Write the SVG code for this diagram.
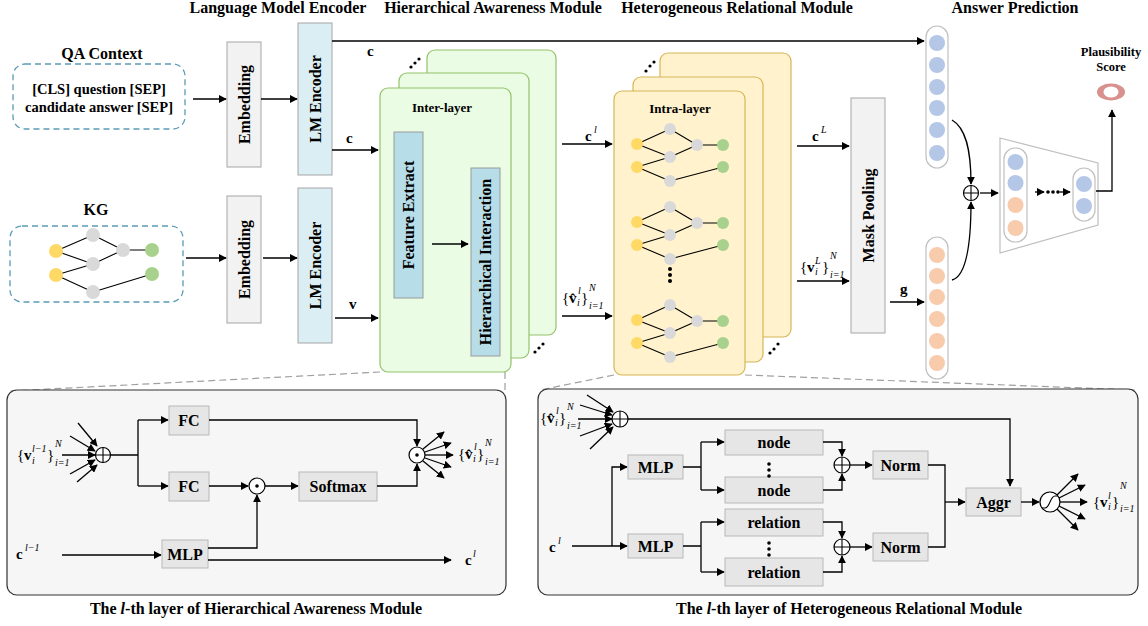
<svg xmlns="http://www.w3.org/2000/svg" width="1148" height="626" viewBox="0 0 1148 626">
<style>
text{font-family:"Liberation Serif",serif}
.t{font-size:16px;font-weight:bold;text-anchor:middle}
.lb{font-size:16px;font-weight:bold;text-anchor:middle;dominant-baseline:central}
.sm{font-size:13px;font-weight:bold;text-anchor:middle}
.m{font-size:15px}
.mb{font-size:15px;font-weight:bold}
.mi{font-size:10px;font-style:italic}
.bx{fill:#f2f2f2;stroke:#a6a6a6;stroke-width:1}
.lm{fill:#daeef3;stroke:#a6a6a6;stroke-width:1}
.fe{fill:#b7dde8;stroke:#999;stroke-width:1}
.gc{fill:#eafde4;stroke:#93c26a;stroke-width:1.2}
.yc{fill:#fff2cc;stroke:#d6b656;stroke-width:1.2}
.bb{fill:#e6e6e6;stroke:#b8b8b8;stroke-width:1}
.pn{fill:#f6f6f6;stroke:#333;stroke-width:1.2}
.ln{stroke:#000;stroke-width:1.3;fill:none}
.ar{marker-end:url(#ah)}
.dash{stroke:#a0a0a0;stroke-width:1.2;stroke-dasharray:7 4;fill:none}
.qd{fill:#fff;stroke:#5b9bb5;stroke-width:1.3;stroke-dasharray:6 4}
.ed{stroke:#000;stroke-width:1.1;fill:none}
.ny{fill:#ffd966}.ng{fill:#d9d9d9}.nn{fill:#a9d18e}
.cb{fill:#b4c7e7}.co{fill:#f8cbad}
.pill{fill:#fff;stroke:#c0c0c0;stroke-width:1.2}
.op{fill:#fff;stroke:#000;stroke-width:1.2}
.dt{fill:#000}
</style>
<defs>
<marker id="ah" viewBox="0 0 10 10" refX="9" refY="5" markerWidth="8" markerHeight="8" markerUnits="userSpaceOnUse" orient="auto"><path d="M0,0 L10,5 L0,10 z" fill="#000"/></marker>
<g id="ig">
<path class="ed" d="M0,0 L33,-15 M0,0 L33,13 M0,23 L33,13 M0,23 L33,37 M33,-15 L60,1 M33,13 L60,1 M60,1 L86,1 M33,37 L86,23"/>
<circle class="ny" cx="0" cy="0" r="6"/><circle class="ny" cx="0" cy="23" r="6"/>
<circle class="ng" cx="33" cy="-15" r="6"/><circle class="ng" cx="33" cy="13" r="6"/><circle class="ng" cx="33" cy="37" r="6"/>
<circle class="ng" cx="60" cy="1" r="6"/>
<circle class="nn" cx="86" cy="1" r="6"/><circle class="nn" cx="86" cy="23" r="6"/>
</g>
</defs>

<!-- titles -->
<text class="t" x="278" y="13">Language Model Encoder</text>
<text class="t" x="493" y="13">Hierarchical Awareness Module</text>
<text class="t" x="737" y="13">Heterogeneous Relational Module</text>
<text class="t" x="1015" y="13">Answer Prediction</text>

<!-- dashed zoom lines -->
<g id="zoomlines">
<path class="dash" d="M380,372 L10,391"/>
<path class="dash" d="M505,372 L505,390"/>
<path class="dash" d="M614,375 L540,390"/>
<path class="dash" d="M745,375 L1135,390"/>
</g>

<!-- QA context -->
<g id="qa">
<text class="t" x="102" y="59">QA Context</text>
<rect class="qd" x="13" y="64" width="172" height="65" rx="12"/>
<text x="99" y="94" font-size="14.5" font-weight="bold" text-anchor="middle">[CLS] question [SEP]</text>
<text x="99" y="112" font-size="14.5" font-weight="bold" text-anchor="middle">candidate answer [SEP]</text>
</g>

<!-- KG -->
<g id="kg">
<text class="t" x="96" y="215">KG</text>
<rect class="qd" x="10" y="226" width="173" height="76" rx="12"/>
<path class="ed" d="M56,251 L93,235 M56,251 L93,264 M56,275 L93,264 M56,275 L93,292 M93,235 L123,250 M93,264 L123,250 M123,250 L152,250 M93,292 L152,274"/>
<circle class="ny" cx="56" cy="251" r="7"/><circle class="ny" cx="56" cy="275" r="7"/>
<circle class="ng" cx="93" cy="235" r="7"/><circle class="ng" cx="93" cy="264" r="7"/><circle class="ng" cx="93" cy="292" r="7"/>
<circle class="ng" cx="123" cy="250" r="7"/>
<circle class="nn" cx="152" cy="250" r="7"/><circle class="nn" cx="152" cy="274" r="7"/>
</g>

<!-- encoders -->
<g id="emb1"><rect class="bx" x="227" y="42" width="34" height="125"/><text class="lb" transform="translate(244,104.5) rotate(-90)">Embedding</text></g>
<g id="lm1"><rect class="lm" x="298" y="23" width="34" height="152"/><text class="lb" transform="translate(315,99) rotate(-90)">LM Encoder</text></g>
<g id="emb2"><rect class="bx" x="227" y="196" width="34" height="127"/><text class="lb" transform="translate(244,259.5) rotate(-90)">Embedding</text></g>
<g id="lm2"><rect class="lm" x="298" y="188" width="34" height="155"/><text class="lb" transform="translate(315,265.5) rotate(-90)">LM Encoder</text></g>

<!-- HAM cards -->
<g id="ham">
<rect class="gc" x="427" y="50" width="129" height="285" rx="8"/>
<rect class="gc" x="399" y="73" width="130" height="285" rx="8"/>
<rect class="gc" x="380" y="88" width="131" height="284" rx="8"/>
<text class="sm" x="442" y="112">Inter-layer</text>
<rect class="fe" x="394" y="132" width="29" height="166"/>
<text class="lb" transform="translate(408.5,215) rotate(-90)">Feature Extract</text>
<rect class="fe" x="471" y="168" width="29" height="188"/>
<text class="lb" transform="translate(485.5,262) rotate(-90)">Hierarchical Interaction</text>
<circle class="dt" cx="411" cy="67" r="1.6"/><circle class="dt" cx="415" cy="63" r="1.6"/><circle class="dt" cx="419" cy="59" r="1.6"/>
<circle class="dt" cx="535" cy="352" r="1.6"/><circle class="dt" cx="539" cy="348" r="1.6"/><circle class="dt" cx="543" cy="344" r="1.6"/>
</g>

<!-- HRM cards -->
<g id="hrm">
<rect class="yc" x="660" y="53" width="131" height="284" rx="8"/>
<rect class="yc" x="633" y="77" width="130" height="285" rx="8"/>
<rect class="yc" x="614" y="91" width="131" height="284" rx="8"/>
<text class="sm" x="680" y="113">Intra-layer</text>
<use href="#ig" x="637" y="144"/>
<use href="#ig" x="637" y="222"/>
<use href="#ig" x="637" y="320"/>
<circle class="dt" cx="670" cy="269" r="2"/><circle class="dt" cx="670" cy="275" r="2"/><circle class="dt" cx="670" cy="281" r="2"/>
<circle class="dt" cx="646" cy="71" r="1.6"/><circle class="dt" cx="650" cy="66" r="1.6"/><circle class="dt" cx="654" cy="62" r="1.6"/>
<circle class="dt" cx="770" cy="353" r="1.6"/><circle class="dt" cx="774" cy="349" r="1.6"/><circle class="dt" cx="778" cy="344" r="1.6"/>
</g>

<!-- Mask pooling -->
<g id="mask"><rect class="bx" x="851" y="98" width="34" height="235"/><text class="lb" transform="translate(868,215.5) rotate(-90)">Mask Pooling</text></g>

<!-- answer prediction -->
<g id="vecc">
<rect class="pill" x="926" y="26" width="22" height="142" rx="11"/>
<circle class="cb" cx="937" cy="43" r="8"/><circle class="cb" cx="937" cy="65" r="8"/><circle class="cb" cx="937" cy="87" r="8"/><circle class="cb" cx="937" cy="108" r="8"/><circle class="cb" cx="937" cy="130" r="8"/><circle class="cb" cx="937" cy="153" r="8"/>
</g>
<g id="vecg">
<rect class="pill" x="926" y="237" width="22" height="142" rx="11"/>
<circle class="co" cx="937" cy="255" r="8"/><circle class="co" cx="937" cy="276" r="8"/><circle class="co" cx="937" cy="297" r="8"/><circle class="co" cx="937" cy="319" r="8"/><circle class="co" cx="937" cy="341" r="8"/><circle class="co" cx="937" cy="363" r="8"/>
</g>
<g id="concat">
<circle class="op" cx="971" cy="193" r="7.5"/><path class="ed" d="M963.5,193 H978.5 M971,185.5 V200.5"/>
</g>
<g id="mlp">
<polygon points="1000,138 1098,163 1098,225 1000,253" fill="#fff" stroke="#bfbfbf" stroke-width="1.2"/>
<rect class="pill" x="1004" y="148" width="23" height="94" rx="11"/>
<circle class="cb" cx="1015.5" cy="162" r="8"/><circle class="cb" cx="1015.5" cy="183" r="8"/><circle class="co" cx="1015.5" cy="205" r="8"/><circle class="co" cx="1015.5" cy="228" r="8"/>
<rect class="pill" x="1073" y="168" width="22" height="53" rx="11"/>
<circle class="cb" cx="1084" cy="184" r="8"/><circle class="cb" cx="1084" cy="206" r="8"/>
<path class="ln ar" d="M1035,192 H1044"/>
<circle class="dt" cx="1048" cy="192" r="1.8"/><circle class="dt" cx="1053" cy="192" r="1.8"/><circle class="dt" cx="1058" cy="192" r="1.8"/>
<path class="ln ar" d="M1060,192 H1070"/>
</g>
<g id="score">
<text x="1111" y="56" font-size="12.5" font-weight="bold" text-anchor="middle">Plausibility</text>
<text x="1111" y="71" font-size="12.5" font-weight="bold" text-anchor="middle">Score</text>
<ellipse cx="1111" cy="92" rx="14" ry="8.5" fill="#d9918f"/>
<ellipse cx="1111" cy="92" rx="7.5" ry="5.5" fill="#fff"/>
</g>

<!-- connectors top -->
<g id="connectors">
<path class="ln ar" d="M193,99 H226"/>
<path class="ln ar" d="M261,99 H297"/>
<path class="ln ar" d="M332,41 H924" stroke="#333"/>
<path class="ln ar" d="M332,150 H378"/>
<path class="ln ar" d="M186,258 H226"/>
<path class="ln ar" d="M263,258 H297"/>
<path class="ln ar" d="M335,318 H378"/>
<path class="ln ar" d="M432,244 H468"/>
<path class="ln ar" d="M562,144 H612"/>
<path class="ln ar" d="M562,316 H612"/>
<path class="ln ar" d="M797,146 H849"/>
<path class="ln ar" d="M797,281 H849"/>
<path class="ln ar" d="M890,302 H924"/>
<path class="ln ar" d="M952,120 C966,128 971,150 971,184"/>
<path class="ln ar" d="M952,280 C967,276 971,240 971,202"/>
<path class="ln ar" d="M980,193 H998"/>
<path class="ln ar" d="M1096,191 H1112 V110"/>
</g>

<!-- top labels -->
<text class="mb" x="367" y="56">c</text>
<text class="mb" x="346" y="143">c</text>
<text class="mb" x="349" y="309">v</text>
<text class="mb" x="585" y="141">c</text><text class="mi" x="594" y="133">l</text>
<text class="m" x="562" y="303">{</text><text class="mb" x="569" y="303">v̂</text><text class="mi" x="577" y="306">i</text><text class="mi" x="578" y="294">l</text><text class="m" x="581" y="303">}</text><text class="mi" x="589" y="291">N</text><text class="mi" x="589" y="309">i=1</text>
<text class="mb" x="812" y="141">c</text><text class="mi" x="821" y="133">L</text>
<text class="m" x="800" y="272">{</text><text class="mb" x="807" y="272">v</text><text class="mi" x="815" y="275">i</text><text class="mi" x="815" y="264">L</text><text class="m" x="822" y="272">}</text><text class="mi" x="830" y="259">N</text><text class="mi" x="830" y="278">i=1</text>
<text class="mb" x="900" y="294">g</text>

<!-- bottom-left panel -->
<g id="hamLayer">
<rect class="pn" x="7" y="390" width="499" height="205" rx="10"/>
<text x="17" y="460" class="m">{</text><text class="mb" x="24" y="460">v</text><text class="mi" x="32" y="464">i</text><text class="mi" x="32" y="452">l−1</text><text class="m" x="47" y="460">}</text><text class="mi" x="55" y="447">N</text><text class="mi" x="55" y="466">i=1</text>
<path class="ln ar" d="M78,423 L97,446" stroke-width="1"/>
<path class="ln ar" d="M70,436 L95,451" stroke-width="1"/>
<path class="ln ar" d="M62,455 L95,455" stroke-width="1"/>
<path class="ln ar" d="M70,474 L95,460" stroke-width="1"/>
<path class="ln ar" d="M77,482 L97,465" stroke-width="1"/>
<circle class="op" cx="103" cy="455" r="7.5"/><path class="ed" d="M95.5,455 H110.5 M103,447.5 V462.5"/>
<path class="ln" d="M110.5,455 H138 M138,420 V486"/>
<path class="ln ar" d="M138,420 H168"/>
<path class="ln ar" d="M138,486 H168"/>
<rect class="bb" x="169" y="406" width="40" height="29"/><text class="lb" x="189" y="420.5">FC</text>
<rect class="bb" x="169" y="472" width="40" height="29"/><text class="lb" x="189" y="486.5">FC</text>
<path class="ln ar" d="M209,420 H417 V446"/>
<path class="ln ar" d="M209,486 H248"/>
<circle class="op" cx="257" cy="486" r="8"/><circle class="dt" cx="257" cy="486" r="1.8"/>
<path class="ln ar" d="M265,486 H298"/>
<rect class="bb" x="299" y="472" width="78" height="29"/><text class="lb" x="338" y="486.5">Softmax</text>
<path class="ln ar" d="M377,486 H417 V464"/>
<circle class="op" cx="417" cy="455" r="8"/><circle class="dt" cx="417" cy="455" r="1.8"/>
<path class="ln ar" d="M423,449 L444,432" stroke-width="1"/>
<path class="ln ar" d="M425,452 L451,443" stroke-width="1"/>
<path class="ln ar" d="M425,455 L453,455" stroke-width="1"/>
<path class="ln ar" d="M425,458 L451,467" stroke-width="1"/>
<path class="ln ar" d="M423,461 L444,478" stroke-width="1"/>
<text x="458" y="459" class="m">{</text><text class="mb" x="465" y="459">v̂</text><text class="mi" x="473" y="462">i</text><text class="mi" x="474" y="450">l</text><text class="m" x="477" y="459">}</text><text class="mi" x="485" y="446">N</text><text class="mi" x="485" y="465">i=1</text>
<text class="mb" x="16" y="559">c</text><text class="mi" x="25" y="551">l−1</text>
<path class="ln ar" d="M62,555 H161"/>
<rect class="bb" x="162" y="540" width="46" height="28"/><text class="lb" x="185" y="554">MLP</text>
<path class="ln ar" d="M208,548 H257 V495"/>
<path class="ln ar" d="M208,560 H451"/>
<text class="mb" x="465" y="565">c</text><text class="mi" x="473" y="557">l</text>
</g>
<text x="256" y="614" font-size="16" font-weight="bold" text-anchor="middle">The <tspan font-style="italic">l</tspan>-th layer of Hierarchical Awareness Module</text>

<!-- bottom-right panel -->
<g id="hrmLayer">
<rect class="pn" x="538" y="389" width="600" height="206" rx="10"/>
<text x="540" y="423" class="m">{</text><text class="mb" x="547" y="423">v̂</text><text class="mi" x="555" y="426">i</text><text class="mi" x="556" y="414">l</text><text class="m" x="559" y="423">}</text><text class="mi" x="567" y="410">N</text><text class="mi" x="567" y="429">i=1</text>
<path class="ln ar" d="M587,395 L613,412" stroke-width="1"/>
<path class="ln ar" d="M580,405 L612,415" stroke-width="1"/>
<path class="ln ar" d="M578,419 L612,419" stroke-width="1"/>
<path class="ln ar" d="M580,436 L612,424" stroke-width="1"/>
<path class="ln ar" d="M590,449 L613,427" stroke-width="1"/>
<circle class="op" cx="620" cy="419" r="8"/><path class="ed" d="M612,419 H628 M620,411 V427"/>
<path class="ln ar" d="M628,419 H1010 V486"/>
<text class="mb" x="549" y="552">c</text><text class="mi" x="558" y="544">l</text>
<path class="ln ar" d="M572,546 H627"/>
<path class="ln ar" d="M612,546 V467 H627"/>
<rect class="bb" x="628" y="455" width="55" height="24"/><text class="lb" x="655.5" y="467">MLP</text>
<rect class="bb" x="628" y="534" width="55" height="24"/><text class="lb" x="655.5" y="546">MLP</text>
<path class="ln" d="M683,467 H701 M701,442 V490 M683,546 H701 M701,522 V572"/>
<path class="ln ar" d="M701,442 H724"/>
<path class="ln ar" d="M701,490 H724"/>
<path class="ln ar" d="M701,522 H724"/>
<path class="ln ar" d="M701,572 H724"/>
<rect class="bb" x="725" y="430" width="98" height="25"/><text class="lb" x="774" y="442.5">node</text>
<rect class="bb" x="725" y="477" width="98" height="26"/><text class="lb" x="774" y="490">node</text>
<rect class="bb" x="725" y="509" width="98" height="27"/><text class="lb" x="774" y="522.5">relation</text>
<rect class="bb" x="725" y="558" width="98" height="28"/><text class="lb" x="774" y="572">relation</text>
<circle class="dt" cx="769" cy="464" r="1.8"/><circle class="dt" cx="769" cy="470" r="1.8"/><circle class="dt" cx="769" cy="476" r="1.8"/>
<circle class="dt" cx="769" cy="543" r="1.8"/><circle class="dt" cx="769" cy="549" r="1.8"/><circle class="dt" cx="769" cy="555" r="1.8"/>
<path class="ln ar" d="M823,442 H842 V456"/>
<path class="ln ar" d="M823,490 H842 V474"/>
<path class="ln ar" d="M823,522 H842 V538"/>
<path class="ln ar" d="M823,572 H842 V556"/>
<circle class="op" cx="842" cy="465" r="8"/><path class="ed" d="M834,465 H850 M842,457 V473"/>
<circle class="op" cx="842" cy="547" r="8"/><path class="ed" d="M834,547 H850 M842,539 V555"/>
<path class="ln ar" d="M850,465 H872"/>
<path class="ln ar" d="M850,547 H872"/>
<rect class="bb" x="873" y="451" width="55" height="28"/><text class="lb" x="900.5" y="465">Norm</text>
<rect class="bb" x="873" y="533" width="55" height="28"/><text class="lb" x="900.5" y="547">Norm</text>
<path class="ln" d="M928,465 H945 V547 H928"/>
<path class="ln ar" d="M945,502 H965"/>
<rect class="bb" x="966" y="488" width="55" height="28"/><text class="lb" x="993.5" y="502">Aggr</text>
<path class="ln ar" d="M1021,502 H1039"/>
<circle class="op" cx="1050" cy="502" r="10"/>
<path class="ed" d="M1042,508 H1045 C1050,508 1050,496 1055,496 H1058"/>
<path class="ln ar" d="M1057,495 L1078,474" stroke-width="1"/>
<path class="ln ar" d="M1059,498 L1085,485" stroke-width="1"/>
<path class="ln ar" d="M1060,502 L1087,502" stroke-width="1"/>
<path class="ln ar" d="M1059,506 L1085,519" stroke-width="1"/>
<path class="ln ar" d="M1057,509 L1078,530" stroke-width="1"/>
<text x="1093" y="507" class="m">{</text><text class="mb" x="1100" y="507">v</text><text class="mi" x="1108" y="510">i</text><text class="mi" x="1108" y="499">l</text><text class="m" x="1112" y="507">}</text><text class="mi" x="1120" y="489">N</text><text class="mi" x="1120" y="512">i=1</text>
</g>
<text x="849" y="614" font-size="16" font-weight="bold" text-anchor="middle">The <tspan font-style="italic">l</tspan>-th layer of  Heterogeneous Relational Module</text>
</svg>
